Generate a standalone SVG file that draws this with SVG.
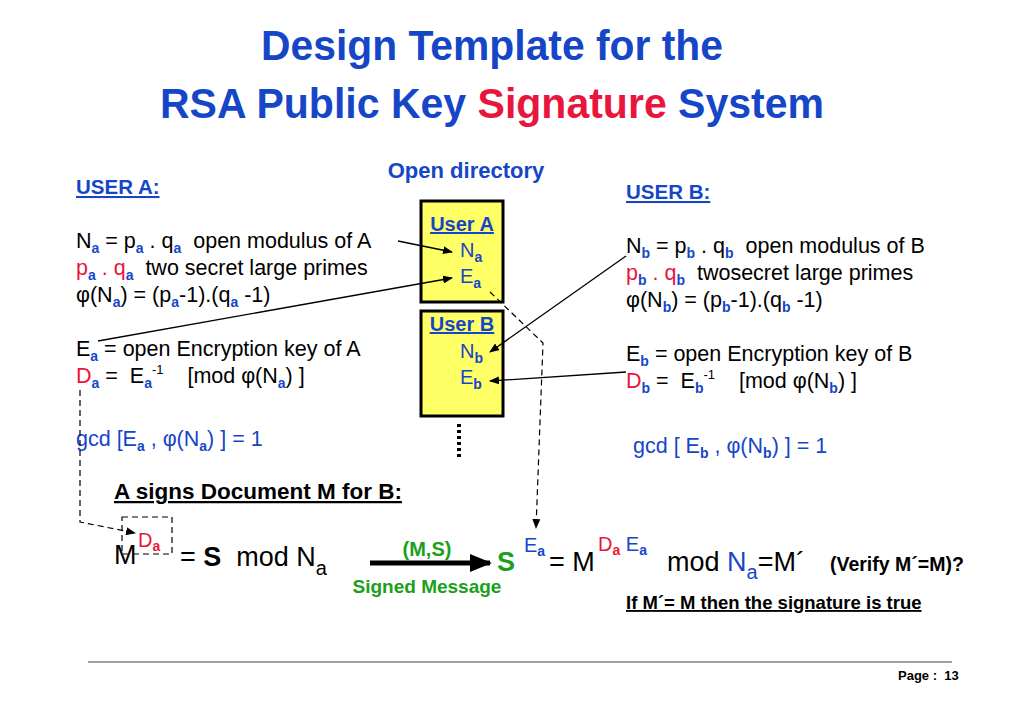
<svg xmlns="http://www.w3.org/2000/svg" width="1024" height="711" viewBox="0 0 1024 711">
<defs>
<marker id="ah" markerWidth="10" markerHeight="8" refX="9" refY="4" orient="auto" markerUnits="userSpaceOnUse"><path d="M0,0 L10,4 L0,8 z" fill="#000"/></marker>
<marker id="big" markerWidth="22" markerHeight="18" refX="20" refY="9" orient="auto" markerUnits="userSpaceOnUse"><path d="M0,0 L22,9 L0,18 z" fill="#000"/></marker>
</defs>
<style>
text{font-family:"Liberation Sans",Arial,sans-serif;white-space:pre}
.t{font-size:21.5px;fill:#000}
.r{fill:#e8163c}.bl{fill:#1646c8}.g{fill:#1aa01a}
.bb{font-weight:bold}
.hd{font-size:20.5px;font-weight:bold;fill:#1646c8;text-decoration:underline}
.box{fill:#ffff66;stroke:#000;stroke-width:3}
.ln{stroke:#000;stroke-width:1.3;fill:none}
.ds{stroke:#000;stroke-width:1.2;fill:none;stroke-dasharray:6,4}
.ttl{font-family:"Liberation Sans Narrow","Liberation Sans",sans-serif;font-size:42px;font-weight:bold;fill:#1646c8}
</style>
<rect width="1024" height="711" fill="#fff"/>
<text x="492" y="60" text-anchor="middle" class="ttl" textLength="462" lengthAdjust="spacingAndGlyphs">Design Template for the</text>
<text x="492" y="118" text-anchor="middle" class="ttl" textLength="664" lengthAdjust="spacingAndGlyphs">RSA Public Key <tspan fill="#e8163c">Signature</tspan> System</text>
<text x="466" y="178" text-anchor="middle" font-size="22" font-weight="bold" fill="#1646c8">Open directory</text>
<text x="76" y="194" class="hd">USER A:</text>
<text x="626" y="199" class="hd">USER B:</text>

<g id="userA">
<text x="76" y="248" class="t">N<tspan class="bb bl" font-size="14" dy="5">a</tspan><tspan dy="-5"> = p</tspan><tspan class="bb bl" font-size="14" dy="5">a</tspan><tspan dy="-5"> . q</tspan><tspan class="bb bl" font-size="14" dy="5">a</tspan><tspan dy="-5">  open modulus of A</tspan></text>
<text x="76" y="275" class="t"><tspan class="r">p</tspan><tspan class="bb bl" font-size="14" dy="5">a</tspan><tspan class="r" dy="-5"> . q</tspan><tspan class="bb bl" font-size="14" dy="5">a</tspan><tspan dy="-5">  two secret large primes</tspan></text>
<text x="76" y="302" class="t">φ(N<tspan class="bb bl" font-size="14" dy="5">a</tspan><tspan dy="-5">) = (p</tspan><tspan class="bb bl" font-size="14" dy="5">a</tspan><tspan dy="-5">-1).(q</tspan><tspan class="bb bl" font-size="14" dy="5">a</tspan><tspan dy="-5"> -1)</tspan></text>
<text x="76" y="356" class="t">E<tspan class="bb bl" font-size="14" dy="5">a</tspan><tspan dy="-5"> = open Encryption key of A</tspan></text>
<text x="76" y="383" class="t"><tspan class="r">D</tspan><tspan class="bb bl" font-size="14" dy="5">a</tspan><tspan dy="-5"> =  E</tspan><tspan class="bb bl" font-size="14" dy="5">a</tspan><tspan font-size="13" dy="-14">-1</tspan><tspan dy="9">    [mod φ(N</tspan><tspan class="bb bl" font-size="14" dy="5">a</tspan><tspan dy="-5">) ]</tspan></text>
<text x="76" y="446" class="t bl">gcd [E<tspan class="bb" font-size="14" dy="5">a</tspan><tspan dy="-5"> , φ(N</tspan><tspan class="bb" font-size="14" dy="5">a</tspan><tspan dy="-5">) ] = 1</tspan></text>
</g>

<g id="userB">
<text x="626" y="253" class="t">N<tspan class="bb bl" font-size="14" dy="5">b</tspan><tspan dy="-5"> = p</tspan><tspan class="bb bl" font-size="14" dy="5">b</tspan><tspan dy="-5"> . q</tspan><tspan class="bb bl" font-size="14" dy="5">b</tspan><tspan dy="-5">  open modulus of B</tspan></text>
<text x="626" y="280" class="t"><tspan class="r">p</tspan><tspan class="bb bl" font-size="14" dy="5">b</tspan><tspan class="r" dy="-5"> . q</tspan><tspan class="bb bl" font-size="14" dy="5">b</tspan><tspan dy="-5">  twosecret large primes</tspan></text>
<text x="626" y="307" class="t">φ(N<tspan class="bb bl" font-size="14" dy="5">b</tspan><tspan dy="-5">) = (p</tspan><tspan class="bb bl" font-size="14" dy="5">b</tspan><tspan dy="-5">-1).(q</tspan><tspan class="bb bl" font-size="14" dy="5">b</tspan><tspan dy="-5"> -1)</tspan></text>
<text x="626" y="361" class="t">E<tspan class="bb bl" font-size="14" dy="5">b</tspan><tspan dy="-5"> = open Encryption key of B</tspan></text>
<text x="626" y="388" class="t"><tspan class="r">D</tspan><tspan class="bb bl" font-size="14" dy="5">b</tspan><tspan dy="-5"> =  E</tspan><tspan class="bb bl" font-size="14" dy="5">b</tspan><tspan font-size="13" dy="-14">-1</tspan><tspan dy="9">    [mod φ(N</tspan><tspan class="bb bl" font-size="14" dy="5">b</tspan><tspan dy="-5">) ]</tspan></text>
<text x="633" y="453" class="t bl">gcd [ E<tspan class="bb" font-size="14" dy="5">b</tspan><tspan dy="-5"> , φ(N</tspan><tspan class="bb" font-size="14" dy="5">b</tspan><tspan dy="-5">) ] = 1</tspan></text>
</g>

<g id="dirA">
<rect x="421" y="201" width="82" height="101" class="box"/>
<text x="462" y="231" text-anchor="middle" font-size="20" font-weight="bold" fill="#1646c8" text-decoration="underline">User A</text>
<text x="460" y="257" font-size="20" fill="#1646c8">N<tspan font-size="14" font-weight="bold" dy="5">a</tspan></text>
<text x="460" y="283" font-size="20" fill="#1646c8">E<tspan font-size="14" font-weight="bold" dy="5">a</tspan></text>
</g>
<g id="dirB">
<rect x="421" y="311" width="82" height="105" class="box"/>
<text x="462" y="331" text-anchor="middle" font-size="20" font-weight="bold" fill="#1646c8" text-decoration="underline">User B</text>
<text x="460" y="358" font-size="20" fill="#1646c8">N<tspan font-size="14" font-weight="bold" dy="5">b</tspan></text>
<text x="460" y="384" font-size="20" fill="#1646c8">E<tspan font-size="14" font-weight="bold" dy="5">b</tspan></text>
</g>
<line x1="459" y1="424" x2="459" y2="457" stroke="#000" stroke-width="4" stroke-dasharray="3,3"/>

<text x="114" y="499" font-size="22.5" font-weight="bold" fill="#000" text-decoration="underline">A signs Document M for B:</text>

<g id="sign">
<text x="114" y="564" font-size="27" fill="#000">M</text>
<text x="138" y="547" font-size="20" class="r">D<tspan class="bb" font-size="14" dy="4">a</tspan></text>
<rect x="122" y="517" width="50" height="37" class="ds" stroke-dasharray="3,3"/>
<text x="180" y="566" font-size="27" fill="#000">= <tspan font-weight="bold">S</tspan>  mod N<tspan font-size="20" dy="9">a</tspan></text>
<text x="427" y="556" text-anchor="middle" font-size="20" font-weight="bold" class="g">(M,S)</text>
<text x="427" y="593" text-anchor="middle" font-size="19" font-weight="bold" class="g">Signed Message</text>
<text x="497" y="571" font-size="27" font-weight="bold" class="g">S</text>
<text x="524" y="552" font-size="20" class="bl">E<tspan class="bb" font-size="14" dy="4">a</tspan></text>
<text x="549" y="571" font-size="27" fill="#000">= M</text>
<text x="598" y="551" font-size="20" class="r">D<tspan class="bb" font-size="14" dy="4">a</tspan><tspan fill="#1646c8" font-size="20" font-weight="normal" dy="-4"> E</tspan><tspan fill="#1646c8" font-size="14" font-weight="bold" dy="4">a</tspan></text>
<text x="667" y="571" font-size="27" fill="#000">mod <tspan class="bl">N</tspan><tspan class="bl" font-size="20" dy="8">a</tspan><tspan dy="-8">=M´</tspan></text>
<text x="830" y="571" font-size="19.5" font-weight="bold" fill="#000">(Verify M´=M)?</text>
<text x="626" y="609" font-size="18.5" font-weight="bold" fill="#000" text-decoration="underline">If M´= M then the signature is true</text>
</g>

<g id="connectors">
<line x1="398" y1="241" x2="452" y2="252" class="ln" marker-end="url(#ah)"/>
<line x1="98" y1="341" x2="452" y2="278" class="ln" marker-end="url(#ah)"/>
<line x1="626" y1="256" x2="490" y2="352" class="ln" marker-end="url(#ah)"/>
<line x1="626" y1="372" x2="490" y2="381" class="ln" marker-end="url(#ah)"/>
<polyline points="490,292 543,343 536,528" class="ds" marker-end="url(#ah)"/>
<polyline points="80,390 80,522 135,533" class="ds" marker-end="url(#ah)"/>
<line x1="370" y1="563" x2="490" y2="563" stroke="#000" stroke-width="5" marker-end="url(#big)"/>
</g>
<line x1="88" y1="662" x2="952" y2="662" stroke="#444" stroke-width="1.2"/>
<text x="898" y="680" font-size="13" font-weight="bold" fill="#000">Page :  13</text>
</svg>
